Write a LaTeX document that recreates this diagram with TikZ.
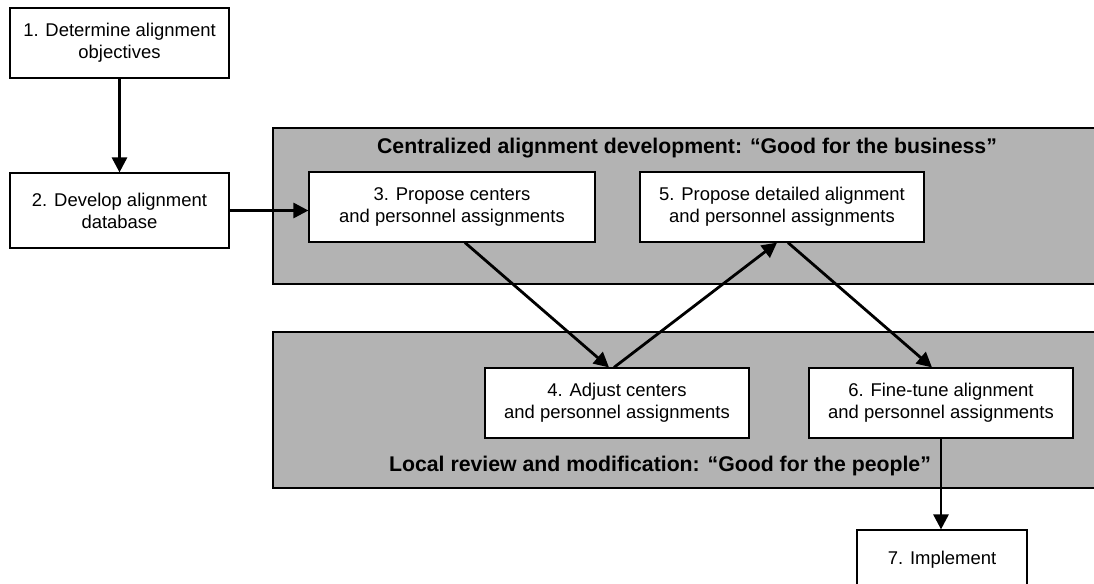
\documentclass[tikz,border=0pt]{standalone}
\usepackage{fontspec}
\setmainfont{Liberation Sans}
\usepackage{tikz}
\usetikzlibrary{arrows.meta,calc}

\definecolor{lanegray}{RGB}{179,179,179}

\begin{document}
\begin{tikzpicture}[x=0.02cm,y=-0.02cm,
		stepbox/.style={draw=black, line width=0.7pt, fill=white, align=center, inner sep=0pt,
			font=\fontsize{10.5}{12.5}\selectfont},
		lane/.style={draw=black, line width=0.7pt, fill=lanegray},
		lanetitle/.style={font=\fontsize{12.1}{14}\selectfont\bfseries},
		flow/.style={line width=1.6pt, -{Triangle[length=0.3cm,width=0.3cm]}}]
	\useasboundingbox (0,0) rectangle (1094,583);
	\clip (0,0) rectangle (1094,583);
	\fill[white] (0,0) rectangle (1094,583);
	
	% the two lanes
	\path[lane] (273,128) rectangle (1110,284);
	\path[lane] (273,332) rectangle (1110,488);
	\node[lanetitle] (toptitle) at (687,148) {Centralized alignment development: “Good for the business”};
	\node[lanetitle] (bottitle) at (660,466) {Local review and modification: “Good for the people”};
	
	% steps
	\node[stepbox, minimum width=4.38cm, minimum height=1.4cm] (n1) at (119.5,43) {1. Determine alignment\\objectives};
	\node[stepbox, minimum width=4.38cm, minimum height=1.5cm] (n2) at (119.5,210.5) {2. Develop alignment\\database};
	\node[stepbox, minimum width=5.72cm, minimum height=1.4cm] (n3) at (452,207) {3. Propose centers\\and personnel assignments};
	\node[stepbox, minimum width=5.68cm, minimum height=1.4cm] (n5) at (782,207) {5. Propose detailed alignment\\and personnel assignments};
	\node[stepbox, minimum width=5.28cm, minimum height=1.4cm] (n4) at (617,403) {4. Adjust centers\\and personnel assignments};
	\node[stepbox, minimum width=5.28cm, minimum height=1.4cm] (n6) at (941,403) {6. Fine-tune alignment\\and personnel assignments};
	\node[stepbox, minimum width=3.4cm, minimum height=1.2cm] (n7) at (942,560) {7. Implement};
	
	% connectors
	\draw[flow] (n1.south) -- (n2.north);
	\draw[flow] (n2.east) -- (n2.east -| n3.west);
	\draw[flow] ([xshift=0.26cm]n3.south) -- ([xshift=-0.16cm]n4.north);
	\draw[flow] ([xshift=-0.06cm]n4.north) -- ([xshift=-0.1cm]n5.south);
	\draw[flow] ([xshift=0.12cm]n5.south) -- ([xshift=-0.18cm]n6.north);
	\draw[flow] (n6.south) -- (n6.south |- n7.north);
\end{tikzpicture}
\end{document}
